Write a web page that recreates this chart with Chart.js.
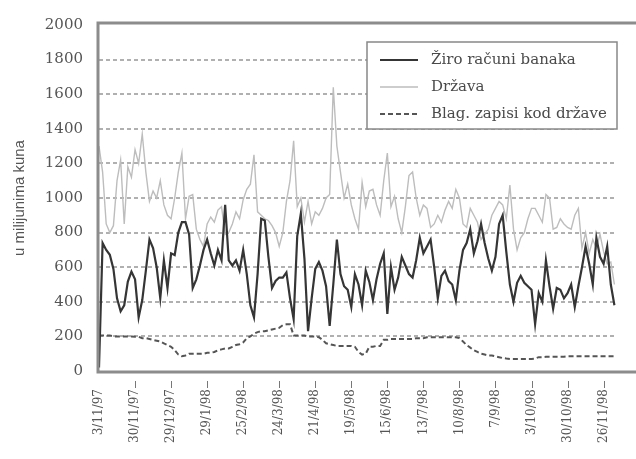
<!DOCTYPE html>
<html>
<head>
<meta charset="utf-8">
<script src="https://cdn.jsdelivr.net/npm/chart.js@4/dist/chart.umd.min.js"></script>
<style>
  html, body { margin: 0; padding: 0; background: #fff; overflow: hidden; }
</style>
</head>
<body>
<canvas id="myChart" width="636" height="459"></canvas>
<script>
// datumi ispod osi, svaka 10. točka
const tickDates = ['3/11/97', '30/11/97', '29/12/97', '29/1/98', '25/2/98', '24/3/98', '21/4/98',
  '19/5/98', '15/6/98', '13/7/98', '10/8/98', '7/9/98', '3/10/98', '30/10/98', '26/11/98'];

const seriesNames = ['Žiro računi banaka', 'Država', 'Blag. zapisi kod države'];

// u milijunima kuna
const ziroRacuni = [
  20, 740, 700, 672, 590, 420, 345, 380, 517, 575,
  530, 310, 410, 580, 760, 710, 600, 420, 640, 480,
  680, 670, 800, 860, 860, 790, 480, 530, 610, 700,
  760, 680, 610, 700, 640, 960, 640, 610, 640, 580,
  700, 560, 380, 310, 560, 880, 870, 660, 480, 520,
  540, 540, 570, 420, 300, 780, 910, 650, 230, 420,
  590, 630, 580, 490, 260, 500, 760, 560, 490, 470,
  370, 560, 500, 380, 580, 515, 410, 530, 620, 680,
  330, 600, 470, 540, 660, 610, 560, 540, 640, 770,
  680, 720, 760, 600, 420, 550, 580, 520, 500, 410,
  580, 700, 740, 820, 680, 750, 850, 740, 650, 580,
  660, 850, 900, 690, 500, 400, 510, 550, 510, 490,
  470, 270, 450, 400, 640, 490, 360, 480, 470, 420,
  450, 500, 370, 490, 600, 720, 620, 500, 770, 660,
  620, 720, 500, 380
];

const drzava = [
  1300, 1150, 850, 800, 840, 1100, 1220, 850, 1180, 1120,
  1280, 1200, 1370, 1150, 980, 1040, 1000, 1100, 960, 900,
  880, 1000, 1150, 1260, 880, 1010, 1020, 820, 760, 720,
  850, 890, 860, 930, 950, 790, 800, 850, 920, 880,
  990, 1050, 1080, 1250, 920, 900, 880, 870, 840, 800,
  720, 800, 980, 1100, 1330, 950, 1000, 860, 980, 850,
  920, 900, 940, 1000, 1020, 1640, 1300, 1150, 1000, 1080,
  960, 880, 820, 1090, 950, 1040, 1050, 960, 900, 1100,
  1260, 950, 1010, 880, 800, 950, 1130, 1150, 1000, 900,
  960, 940, 830, 850, 900, 860, 930, 980, 940, 1050,
  1000, 850, 830, 940, 900, 860, 760, 790, 820, 900,
  940, 980, 960, 880, 1075, 820, 700, 770, 800, 880,
  940, 940, 900, 860, 1020, 1000, 820, 830, 880, 850,
  830, 820, 900, 940, 710, 800, 680, 760, 710, 790,
  690, 620, 630, 500
];

const blagZapisi = [
  205, 205, 205, 205, 200, 200, 200, 200, 200, 200,
  198, 198, 190, 190, 185, 180, 175, 170, 160, 150,
  140, 120, 95, 85, 90, 100, 100, 100, 100, 100,
  105, 105, 110, 120, 125, 130, 130, 140, 150, 155,
  165, 190, 200, 215, 225, 230, 230, 235, 240, 245,
  250, 265, 270, 270, 205, 205, 205, 205, 200, 200,
  200, 195, 180, 160, 155, 150, 145, 145, 145, 145,
  145, 140, 110, 95, 100, 140, 140, 145, 145, 180,
  180, 185, 185, 185, 185, 185, 185, 185, 190, 190,
  190, 195, 195, 195, 195, 195, 195, 195, 195, 195,
  190, 170, 150, 135, 120, 110, 100, 95, 90, 90,
  85, 80, 75, 72, 70, 70, 70, 70, 70, 70,
  70, 72, 80, 80, 82, 82, 82, 82, 82, 82,
  85, 85, 85, 85, 85, 85, 85, 85, 85, 85,
  85, 85, 85, 85
];

const toPoints = arr => arr.map((v, i) => ({ x: i, y: v }));

const serif = 'DejaVu Serif';
const textColor = '#555';

// isprekidane vodoravne linije na svakih 200
const gridPlugin = {
  id: 'dashedGrid',
  beforeDatasetsDraw(chart) {
    const { ctx, chartArea: a, scales } = chart;
    ctx.save();
    ctx.strokeStyle = '#b0b0b0';
    ctx.lineWidth = 2;
    ctx.setLineDash([4, 3]);
    scales.y.ticks.forEach(t => {
      if (t.value <= scales.y.min || t.value >= scales.y.max) return;
      const y = Math.round(scales.y.getPixelForValue(t.value));
      ctx.beginPath();
      ctx.moveTo(a.left, y);
      ctx.lineTo(a.right, y);
      ctx.stroke();
    });
    ctx.restore();
  }
};

// okvir grafa (lijevo, gore, dolje) i crtice ispod osi x
const framePlugin = {
  id: 'frame',
  afterDatasetsDraw(chart) {
    const { ctx, chartArea: a, scales } = chart;
    ctx.save();
    ctx.strokeStyle = '#8c8c8c';
    ctx.lineWidth = 3;
    ctx.beginPath();
    ctx.moveTo(chart.width + 2, a.top - 2);
    ctx.lineTo(a.left - 1, a.top - 2);
    ctx.lineTo(a.left - 1, a.bottom + 1);
    ctx.lineTo(chart.width + 2, a.bottom + 1);
    ctx.stroke();

    ctx.strokeStyle = '#777';
    ctx.lineWidth = 1;
    scales.x.ticks.forEach(t => {
      if (t.value === 0) return;
      const x = Math.round(scales.x.getPixelForValue(t.value)) + 0.5;
      ctx.beginPath();
      ctx.moveTo(x, a.bottom + 10);
      ctx.lineTo(x, a.bottom + 17);
      ctx.stroke();
    });
    ctx.restore();
  }
};

// legenda u gornjem desnom kutu
const legendBox = {
  id: 'legendBox',
  afterDraw(chart) {
    const { ctx } = chart;
    const x = 367, y = 42, w = 250, h = 87;
    ctx.save();
    ctx.fillStyle = '#fff';
    ctx.fillRect(x, y, w, h);
    ctx.strokeStyle = '#888';
    ctx.lineWidth = 1.5;
    ctx.strokeRect(x, y, w, h);
    ctx.font = '15px "' + serif + '"';
    ctx.textBaseline = 'middle';
    chart.data.datasets.forEach((ds, i) => {
      const ry = y + 18 + i * 27;
      ctx.strokeStyle = ds.borderColor;
      ctx.lineWidth = ds.borderWidth;
      ctx.setLineDash(ds.borderDash || []);
      ctx.beginPath();
      ctx.moveTo(x + 13, ry);
      ctx.lineTo(x + 51, ry);
      ctx.stroke();
      ctx.setLineDash([]);
      ctx.fillStyle = '#4a4a4a';
      ctx.fillText(ds.label, x + 64, ry);
    });
    ctx.restore();
  }
};

const ctx = document.getElementById('myChart').getContext('2d');

new Chart(ctx, {
  type: 'line',
  data: {
    datasets: [
      {
        label: seriesNames[0],
        data: toPoints(ziroRacuni),
        borderColor: '#353535',
        borderWidth: 2.2,
        pointRadius: 0,
        tension: 0
      },
      {
        label: seriesNames[1],
        data: toPoints(drzava),
        borderColor: '#bdbdbd',
        borderWidth: 1.4,
        pointRadius: 0,
        tension: 0
      },
      {
        label: seriesNames[2],
        data: toPoints(blagZapisi),
        borderColor: '#555',
        borderWidth: 2,
        borderDash: [5, 3],
        pointRadius: 0,
        tension: 0
      }
    ]
  },
  options: {
    responsive: false,
    animation: false,
    devicePixelRatio: 1,
    layout: { padding: { top: 21, left: 0, right: 0, bottom: 0 } },
    plugins: {
      legend: { display: false },
      tooltip: { enabled: false }
    },
    scales: {
      x: {
        type: 'linear',
        min: 0,
        max: 143.6,
        afterFit: s => { s.height = 88; },
        grid: { display: false, drawTicks: false },
        border: { display: false },
        ticks: {
          stepSize: 10,
          includeBounds: false,
          autoSkip: false,
          minRotation: 90,
          maxRotation: 90,
          padding: 18,
          color: textColor,
          font: { family: serif, size: 12 },
          callback: v => (v % 10 === 0 && tickDates[v / 10]) ? tickDates[v / 10] : null
        }
      },
      y: {
        min: 0,
        max: 2000,
        afterFit: s => { s.width = 99; },
        grid: { display: false, drawTicks: false },
        border: { display: false },
        ticks: {
          stepSize: 200,
          padding: 16,
          color: textColor,
          font: { family: serif, size: 15 },
          callback: v => String(v)
        },
        title: {
          display: true,
          text: 'u milijunima kuna',
          color: textColor,
          font: { family: 'Liberation Sans', size: 15 },
          padding: { top: 11, bottom: 0 }
        }
      }
    }
  },
  plugins: [gridPlugin, framePlugin, legendBox]
});
</script>
</body>
</html>
